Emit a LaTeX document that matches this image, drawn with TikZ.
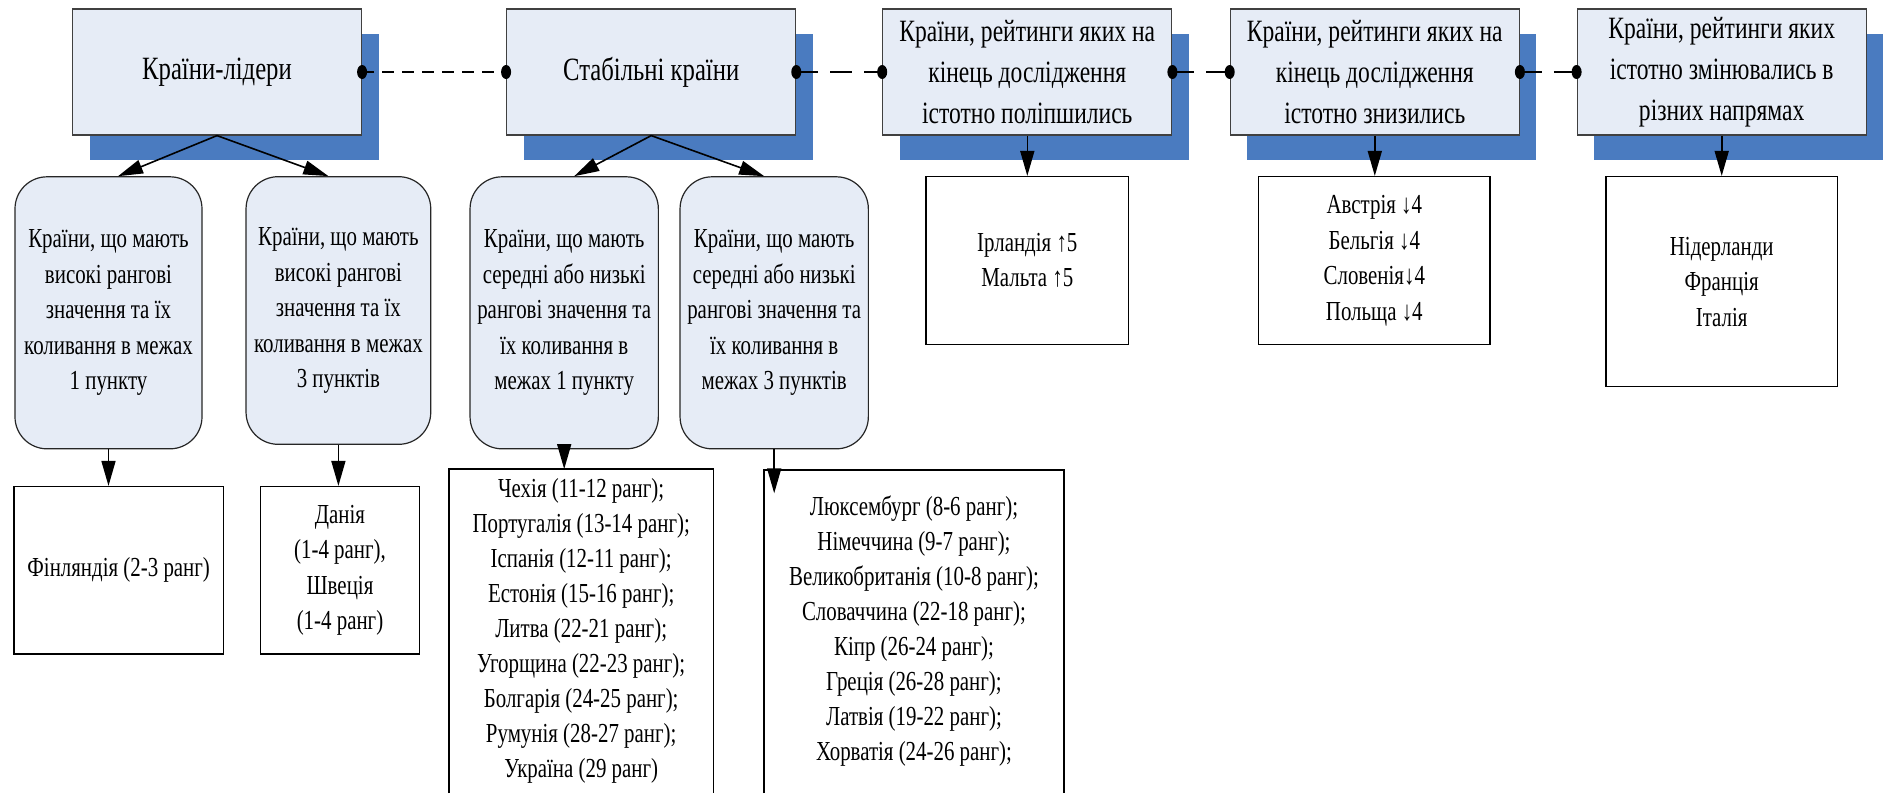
\documentclass[tikz,border=0pt]{standalone}
\usepackage{fontspec}
\setmainfont{Liberation Serif}[FakeStretch=0.76]
\usetikzlibrary{arrows.meta,shadows}
\definecolor{boxfill}{HTML}{E6ECF6}
\definecolor{shadowblue}{HTML}{4A7BC0}
\begin{document}
\begin{tikzpicture}[x=1pt,y=-1pt,
  topbox/.style={draw=black!75, line width=1.2pt, fill=boxfill, minimum width=289pt, minimum height=126pt, inner sep=0pt, align=center, font=\fontsize{31}{41}\selectfont, drop shadow={shadow xshift=17pt, shadow yshift=-25pt, fill=shadowblue, opacity=1}},
  bigtext/.style={font=\fontsize{32.5}{41}\selectfont},
  roundbox/.style={draw=black!85, line width=1.2pt, fill=boxfill, rounded corners=32pt, inner sep=0pt, align=center, font=\fontsize{27.5}{35.5}\selectfont},
  listbox/.style={draw=black, line width=1.5pt, fill=white, inner sep=0pt, align=center, font=\fontsize{27.5}{35.5}\selectfont},
  openbox/.style={draw=none, fill=white, inner sep=0pt, align=center, font=\fontsize{27.5}{35}\selectfont},
  arr/.style={-{Triangle[length=25pt,width=14pt]}, line width=1.6pt},
  link/.style={line width=1.6pt, dash pattern=on 22pt off 12pt},
  shortlink/.style={line width=1.6pt, dash pattern=on 12pt off 8pt},
  enddot/.style={fill=black}
]
\useasboundingbox (0,0) rectangle (1883,793);

% top row
\node[topbox, bigtext] (B1) at (217,72) {Країни-лідери};
\node[topbox, bigtext] (B2) at (651.2,72) {Стабільні країни};
\node[topbox] (B3) at (1027.3,72) {Країни, рейтинги яких на\\кінець дослідження\\істотно поліпшились};
\node[topbox] (B4) at (1374.8,72) {Країни, рейтинги яких на\\кінець дослідження\\істотно знизились};
\node[topbox] (B5) at (1721.7,72) {Країни, рейтинги яких\\істотно змінювались в\\різних напрямах};

% rounded boxes
\node[roundbox, minimum width=187pt, minimum height=272pt] (R1) at (108.5,312.8) {Країни, що мають\\високі рангові\\значення та їх\\коливання в межах\\1 пункту};
\node[roundbox, minimum width=184.7pt, minimum height=267.6pt] (R2) at (338.4,310.5) {Країни, що мають\\високі рангові\\значення та їх\\коливання в межах\\3 пунктів};
\node[roundbox, minimum width=188.3pt, minimum height=272pt] (R3) at (564.2,312.8) {Країни, що мають\\середні або низькі\\рангові значення та\\їх коливання в\\межах 1 пункту};
\node[roundbox, minimum width=188.3pt, minimum height=272pt] (R4) at (774.2,312.8) {Країни, що мають\\середні або низькі\\рангові значення та\\їх коливання в\\межах 3 пунктів};

% result boxes
\node[listbox, minimum width=209.3pt, minimum height=167.3pt] (Fin) at (118.7,570.3) {Фінляндія (2-3 ранг)};
\node[listbox, minimum width=159.4pt, minimum height=167.3pt] (Den) at (340,570.3) {Данія\\(1-4 ранг),\\Швеція\\(1-4 ранг)};
\node[openbox, minimum width=264.3pt, minimum height=323.7pt] (L1) at (581.2,631.15) {Чехія (11-12 ранг);\\Португалія (13-14 ранг);\\Іспанія (12-11 ранг);\\Естонія (15-16 ранг);\\Литва (22-21 ранг);\\Угорщина (22-23 ранг);\\Болгарія (24-25 ранг);\\Румунія (28-27 ранг);\\Україна (29 ранг)};
\node[openbox, minimum width=300pt, minimum height=323pt] (L2) at (914,631.5) {Люксембург (8-6 ранг);\\Німеччина (9-7 ранг);\\Великобританія (10-8 ранг);\\Словаччина (22-18 ранг);\\Кіпр (26-24 ранг);\\Греція (26-28 ранг);\\Латвія (19-22 ранг);\\Хорватія (24-26 ранг);};
\draw[line width=1.5pt] (L1.south west) |- (L1.north east) -- (L1.south east);
\draw[line width=1.5pt] (L2.south west) |- (L2.north east) -- (L2.south east);
\node[listbox, minimum width=202.7pt, minimum height=167.6pt] (Ire) at (1027.3,260.5) {Ірландія ↑5\\Мальта ↑5};
\node[listbox, minimum width=231.3pt, minimum height=167.6pt] (Aut) at (1374.3,260.5) {Австрія ↓4\\Бельгія ↓4\\Словенія↓4\\Польща ↓4};
\node[listbox, minimum width=231.3pt, minimum height=210pt] (Ned) at (1721.7,281.7) {Нідерланди\\Франція\\Італія};

% dashed links with end dots
\draw[shortlink] (B1.east) -- (B2.west);
\draw[link] (B2.east) -- (B3.west);
\draw[link] (B3.east) -- (B4.west);
\draw[link] (B4.east) -- (B5.west);
\foreach \n in {B1,B2,B3,B4}{\fill[enddot] (\n.east) ellipse [x radius=5pt, y radius=7pt];}
\foreach \n in {B2,B3,B4,B5}{\fill[enddot] (\n.west) ellipse [x radius=5pt, y radius=7pt];}

% arrows
\draw[arr] (B1.south) -- ([xshift=9.5pt]R1.north);
\draw[arr] (B1.south) -- ([xshift=-10pt]R2.north);
\draw[arr] (B2.south) -- ([xshift=10pt]R3.north);
\draw[arr] (B2.south) -- ([xshift=-10pt]R4.north);
\draw[arr] (B3.south) -- (B3.south |- Ire.north);
\draw[arr] (B4.south) -- (B4.south |- Aut.north);
\draw[arr] (B5.south) -- (B5.south |- Ned.north);
\draw[arr] (R1.south) -- (R1.south |- Fin.north);
\draw[arr] (R2.south) -- (R2.south |- Den.north);
\draw[arr] (R3.south) -- (R3.south |- L1.north);
\coordinate (R4tip) at (774.2,493.3);
\draw[arr] (R4.south) -- (R4tip);
\end{tikzpicture}
\end{document}
